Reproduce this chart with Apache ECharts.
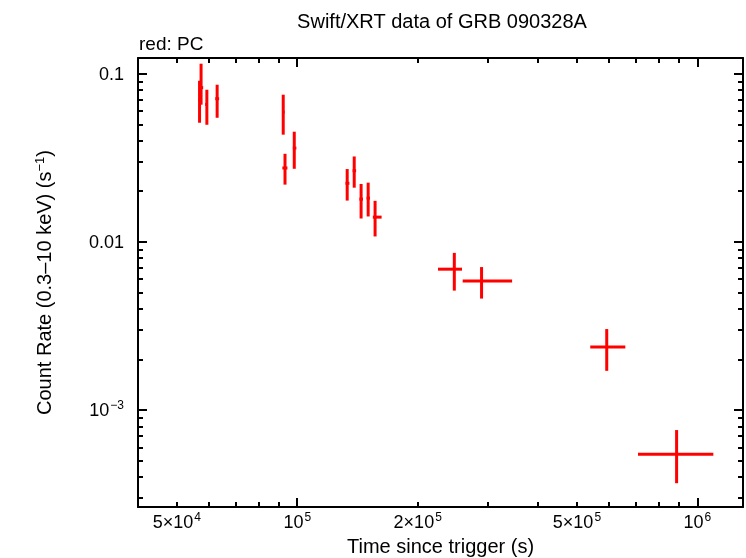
<!DOCTYPE html>
<html><head><meta charset="utf-8">
<script src="https://cdn.jsdelivr.net/npm/echarts@6/dist/echarts.min.js"></script>
<style>html,body{margin:0;padding:0;background:#fff}#c{width:746px;height:558px}</style>
</head><body><div id="c"></div>
<script>
// Data (time in seconds since trigger, count rate in counts/s)
const timeSec = [57000, 57500, 59450, 63070, 92250, 93200, 98300, 133300, 138800, 144400, 150400, 156500, 246900, 288800, 593500, 887200];
const timeLo  = [56600, 57200, 58900, 62400, 92000, 91800, 97500, 132000, 137500, 143000, 149000, 154500, 224800, 259100, 539800, 710500];
const timeHi  = [57400, 58200, 59800, 63800, 93000, 94500, 99500, 135000, 140300, 146000, 152000, 162500, 258100, 344300, 660500, 1096000];
const rate    = [0.070, 0.0826, 0.0656, 0.071, 0.0591, 0.0275, 0.0361, 0.0223, 0.0265, 0.01795, 0.0182, 0.01403, 0.00688, 0.00586, 0.00237, 0.000545];
const rateLo  = [0.0511, 0.0654, 0.0497, 0.0547, 0.0434, 0.0219, 0.0272, 0.0176, 0.0210, 0.01377, 0.01416, 0.01077, 0.00513, 0.0046, 0.00171, 0.000367];
const rateHi  = [0.0908, 0.1147, 0.0803, 0.086, 0.0750, 0.0334, 0.0452, 0.0271, 0.0322, 0.0221, 0.0225, 0.01754, 0.0086, 0.00708, 0.00303, 0.00076];

const xRange = [40000, 1.3e6];
const yRange = [2.65e-4, 0.124];
const xLabelValues = [5e4, 1e5, 2e5, 5e5, 1e6];
const xLabelTexts  = ['5×10{s|4}', '10{s|5}', '2×10{s|5}', '5×10{s|5}', '10{s|6}'];
const xMajorTicks  = [1e5, 1e6];
const xMinorTicks  = [5e4, 6e4, 7e4, 8e4, 9e4, 2e5, 3e5, 4e5, 5e5, 6e5, 7e5, 8e5, 9e5];
const yLabelValues = [0.1, 0.01, 0.001];
const yLabelTexts  = ['0.1', '0.01', '10{s|−3}'];
const yMajorTicks  = [0.1, 0.01, 0.001];
const yMinorTicks  = [3e-4, 4e-4, 5e-4, 6e-4, 7e-4, 8e-4, 9e-4, 2e-3, 3e-3, 4e-3, 5e-3, 6e-3, 7e-3, 8e-3, 9e-3, 0.02, 0.03, 0.04, 0.05, 0.06, 0.07, 0.08, 0.09];

const L = Math.log10;
const FONT = 'Liberation Sans, Arial, Helvetica, sans-serif';
const rich = {
  n: {fontSize: 18, fontFamily: FONT, color: '#000', lineHeight: 20, verticalAlign: 'bottom'},
  s: {fontSize: 12, fontFamily: FONT, color: '#000', lineHeight: 20, verticalAlign: 'top', padding: [0, 0, 0, 1]}
};
function fmt(values, texts) {
  return function (v) {
    for (let i = 0; i < values.length; i++) {
      if (Math.abs(L(values[i]) - v) < 1e-6) {
        return texts[i].replace(/^([^{]+)/, '{n|$1}');
      }
    }
    return '';
  };
}
const lineStyle = {color: '#000', width: 2};
function axisPair(pos, range, major, minor, labelVals, labelTexts, extra) {
  const base = {type: 'value', position: pos, min: L(range[0]), max: L(range[1]), splitLine: {show: false}, gridIndex: 0};
  const a = Object.assign({}, base, {
    axisLine: {show: true, onZero: false, lineStyle: lineStyle},
    axisTick: {show: true, inside: true, length: 9, customValues: major.map(L), lineStyle: lineStyle},
    axisLabel: labelVals ? {show: true, customValues: labelVals.map(L), formatter: fmt(labelVals, labelTexts), rich: rich} : {show: false}
  }, extra || {});
  const b = Object.assign({}, base, {
    axisLine: {show: false},
    axisTick: {show: true, inside: true, length: 5, customValues: minor.map(L), lineStyle: lineStyle},
    axisLabel: {show: false}
  });
  return [a, b];
}

const xAxes = [].concat(
  axisPair('bottom', xRange, xMajorTicks, xMinorTicks, xLabelValues, xLabelTexts, {
    name: 'Time since trigger (s)', nameLocation: 'middle', nameGap: 30,
    nameTextStyle: {fontSize: 20, fontFamily: FONT, color: '#000'}
  }),
  axisPair('top', xRange, xMajorTicks, xMinorTicks, null, null)
);
xAxes[0].axisLabel.margin = 5;
const yAxes = [].concat(
  axisPair('left', yRange, yMajorTicks, yMinorTicks, yLabelValues, yLabelTexts, {
    name: 'Count Rate (0.3–10 keV) (s{s|−1})', nameLocation: 'middle', nameGap: 82, nameRotate: 90,
    nameTextStyle: {fontSize: 20, fontFamily: FONT, color: '#000', rich: {s: {fontSize: 13, fontFamily: FONT, color: '#000', verticalAlign: 'top', lineHeight: 22}}}
  }),
  axisPair('right', yRange, yMajorTicks, yMinorTicks, null, null)
);
yAxes[0].axisLabel.margin = 14;

const data = timeSec.map((t, i) => [L(t), L(rate[i]), L(timeLo[i]), L(timeHi[i]), L(rateLo[i]), L(rateHi[i])]);

const chart = echarts.init(document.getElementById('c'), null, {renderer: 'canvas'});
chart.setOption({
  animation: false,
  backgroundColor: '#fff',
  title: [
    {text: 'Swift/XRT data of GRB 090328A', left: 437, top: 7, textAlign: 'center',
     textStyle: {fontSize: 20, fontWeight: 'normal', fontFamily: FONT, color: '#000'}},
    {text: 'red: PC', left: 134, top: 30,
     textStyle: {fontSize: 19, fontWeight: 'normal', fontFamily: FONT, color: '#000'}}
  ],
  grid: {left: 138, right: 3, top: 58, bottom: 51, containLabel: false, outerBoundsMode: 'none'},
  xAxis: xAxes,
  yAxis: yAxes,
  series: [{
    type: 'custom',
    xAxisIndex: 0, yAxisIndex: 0,
    encode: {x: [0, 2, 3], y: [1, 4, 5]},
    data: data,
    renderItem: function (params, api) {
      const x = api.value(0), y = api.value(1);
      const l = api.coord([api.value(2), y]), h = api.coord([api.value(3), y]);
      const b = api.coord([x, api.value(4)]), t = api.coord([x, api.value(5)]);
      const st = {stroke: '#ff0000', lineWidth: 3};
      return {type: 'group', children: [
        {type: 'line', shape: {x1: l[0], y1: l[1], x2: h[0], y2: h[1]}, style: st},
        {type: 'line', shape: {x1: b[0], y1: b[1], x2: t[0], y2: t[1]}, style: st}
      ]};
    }
  }]
});
</script></body></html>
